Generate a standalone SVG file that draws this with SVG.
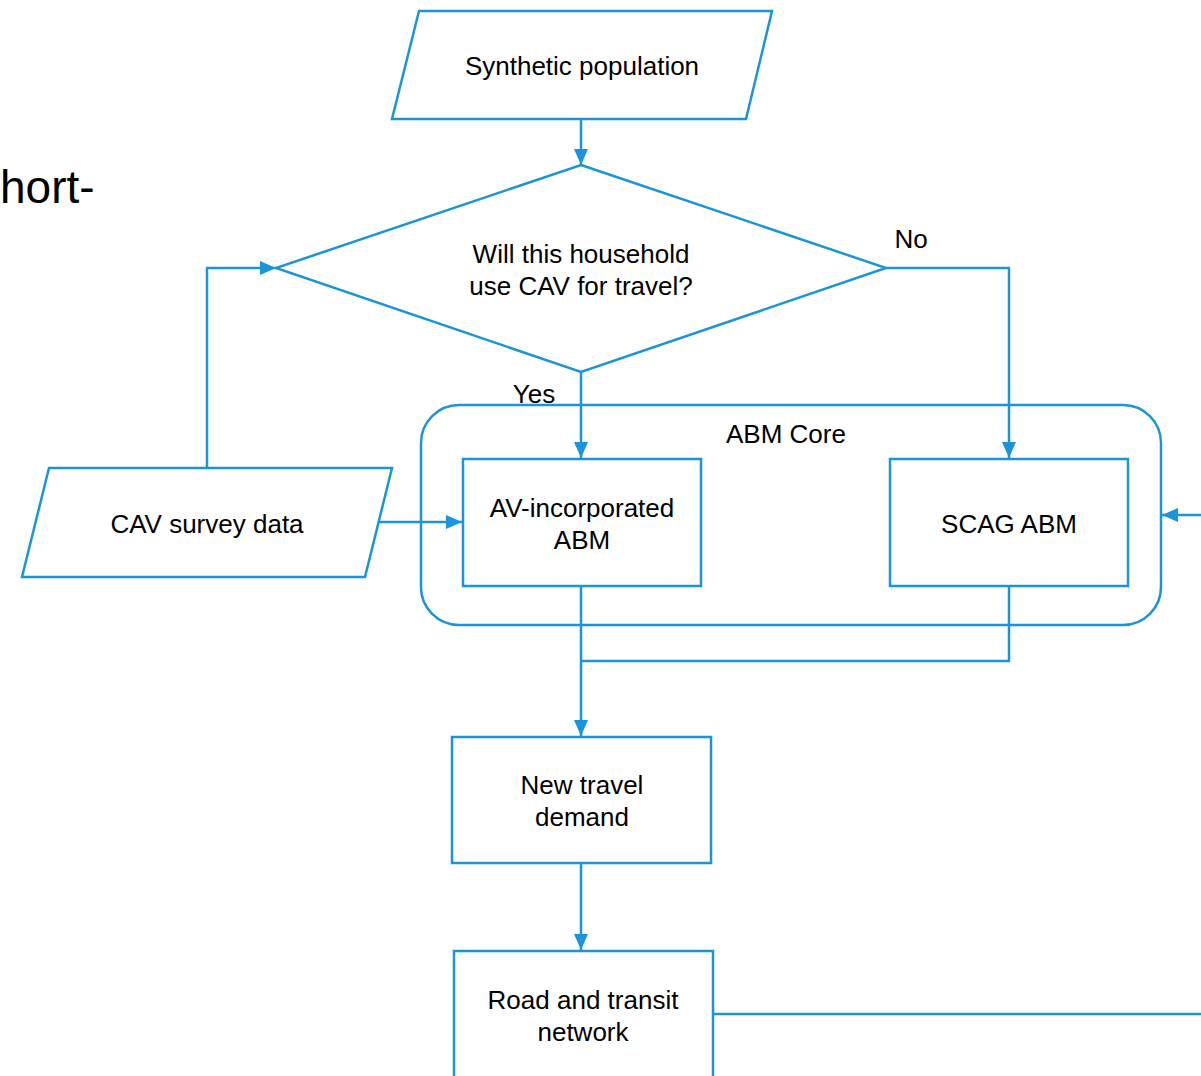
<svg xmlns="http://www.w3.org/2000/svg" width="1201" height="1076" viewBox="0 0 1201 1076">
<defs>
<style>
.s{fill:#fff;stroke:#1A95DA;stroke-width:2.5}
.c{fill:none;stroke:#1A95DA;stroke-width:2.5}
.t{font-family:"Liberation Sans",Arial,sans-serif;font-size:26px;fill:#000;text-anchor:middle}
</style>
<marker id="a" markerWidth="10" markerHeight="10" refX="9" refY="5" orient="auto" markerUnits="userSpaceOnUse" viewBox="0 0 10 10">
<path d="M0,0 L10,5 L0,10 z" fill="#1A95DA"/>
</marker>
<marker id="ah" markerWidth="16" markerHeight="14" refX="16" refY="7" orient="auto" markerUnits="userSpaceOnUse" viewBox="0 0 16 14">
<path d="M0,0 L16,7 L0,14 z" fill="#1A95DA"/>
</marker>
</defs>
<rect width="1201" height="1076" fill="#fff"/>
<text x="0" y="203" style="font-family:'Liberation Sans',Arial,sans-serif;font-size:46px">hort-</text>

<g id="abm-core">
<rect x="421" y="405" width="740" height="220" rx="38" class="s"/>
<text x="786" y="443" class="t">ABM Core</text>
</g>

<g id="connectors">
<path d="M581,119 V165" class="c" marker-end="url(#ah)"/>
<path d="M886,268 H1009 V458" class="c" marker-end="url(#ah)"/>
<path d="M581,372 V458" class="c" marker-end="url(#ah)"/>
<path d="M207,468 V268 H276" class="c" marker-end="url(#ah)"/>
<path d="M379,522 H462" class="c" marker-end="url(#ah)"/>
<path d="M1201,515 H1162" class="c" marker-end="url(#ah)"/>
<path d="M581,586 V736" class="c" marker-end="url(#ah)"/>
<path d="M1009,586 V661 H581" class="c"/>
<path d="M581,863 V950" class="c" marker-end="url(#ah)"/>
<path d="M713,1014 H1201" class="c"/>
</g>

<g id="synthetic-population">
<polygon points="419,11 772,11 746,119 392,119" class="s"/>
<text x="582" y="75" class="t">Synthetic population</text>
</g>

<g id="decision">
<polygon points="581,165 886,268 581,372 276,268" class="s"/>
<text x="581" y="263" class="t">Will this household</text>
<text x="581" y="295" class="t">use CAV for travel?</text>
</g>
<text x="911" y="248" class="t">No</text>
<text x="534" y="403" class="t">Yes</text>

<g id="cav-survey">
<polygon points="49,468 392,468 365,577 22,577" class="s"/>
<text x="207" y="533" class="t">CAV survey data</text>
</g>

<g id="av-abm">
<rect x="463" y="459" width="238" height="127" class="s"/>
<text x="582" y="517" class="t">AV-incorporated</text>
<text x="582" y="549" class="t">ABM</text>
</g>

<g id="scag-abm">
<rect x="890" y="459" width="238" height="127" class="s"/>
<text x="1009" y="533" class="t">SCAG ABM</text>
</g>

<g id="new-demand">
<rect x="452" y="737" width="259" height="126" class="s"/>
<text x="582" y="794" class="t">New travel</text>
<text x="582" y="826" class="t">demand</text>
</g>

<g id="network">
<rect x="454" y="951" width="259" height="140" class="s"/>
<text x="583" y="1009" class="t">Road and transit</text>
<text x="583" y="1041" class="t">network</text>
</g>
</svg>
